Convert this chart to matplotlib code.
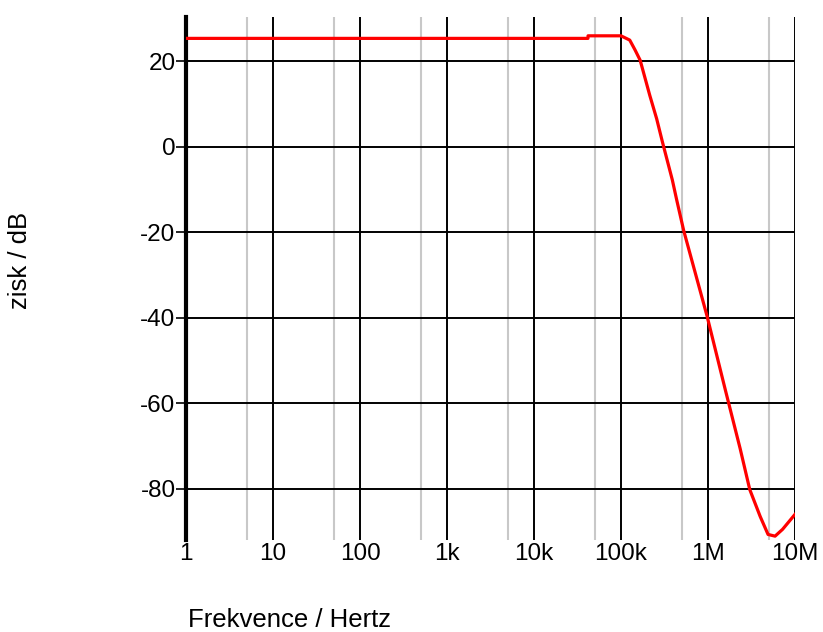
import matplotlib

matplotlib.use("Agg")
import matplotlib.pyplot as plt  # noqa: E402

# frequency response (Hz, dB)
freq_hz = [1, 4.17e4, 4.18e4, 1.0e5, 1.26e5, 1.45e5, 1.66e5, 2.14e5, 2.57e5,
           3.0e5, 3.89e5, 4.37e5, 5.25e5, 9.77e5, 1.45e6, 1.6e6, 2.34e6,
           3.02e6, 3.98e6, 4.9e6, 5.9e6, 7.2e6, 1.0e7]
gain_db = [25.3, 25.3, 25.9, 25.9, 24.9, 22.6, 20.2, 12.0, 6.5,
           1.0, -7.8, -12.5, -19.6, -39.7, -53.8, -57.3, -70.6,
           -80.2, -86.5, -90.7, -91.1, -89.5, -86.0]

x_major = [1, 10, 100, 1e3, 1e4, 1e5, 1e6, 1e7]
x_labels = ["1", "10", "100", "1k", "10k", "100k", "1M", "10M"]
x_minor = [5, 50, 500, 5e3, 5e4, 5e5, 5e6]
y_major = [20, 0, -20, -40, -60, -80]

plt.rcParams["font.family"] = ["Liberation Sans", "DejaVu Sans"]
FS = 17.5

fig = plt.figure(figsize=(8.23, 6.32), dpi=100)
ax = fig.add_axes([186 / 823, 1 - 540 / 632, (795 - 186) / 823, (540 - 17) / 632])

ax.set_xscale("log")
ax.set_xlim(1, 1e7)
ax.set_ylim(-92, 30.3)

for x in x_minor:
    ax.axvline(x, color="#c8c8c8", lw=1.5, zorder=1)
for x in x_major[1:]:
    ax.axvline(x, color="black", lw=1.4, zorder=2)
for y in y_major:
    ax.axhline(y, color="black", lw=1.4, zorder=2)

ax.plot(freq_hz, gain_db, color="#ff0000", lw=2.3, zorder=3, solid_joinstyle="round")

ax.set_xticks(x_major)
ax.set_xticklabels(x_labels)
ax.xaxis.set_minor_locator(matplotlib.ticker.NullLocator())
ax.set_yticks(y_major)
ax.set_yticklabels([str(v) for v in y_major])
ax.tick_params(axis="x", length=0, pad=2, labelsize=FS)
ax.tick_params(axis="y", length=7, width=1.2, pad=0.5, labelsize=FS)

for side in ("top", "right", "bottom"):
    ax.spines[side].set_visible(False)
ax.spines["left"].set_linewidth(3)

fig.text(20 / 823, 1 - 260 / 632, "zisk / dB", rotation=90, ha="center", va="center", fontsize=18.5)
fig.text(188 / 823, 1 - 627 / 632, "Frekvence / Hertz", ha="left", va="baseline", fontsize=18.5)

fig.savefig("out.png", dpi=100)
